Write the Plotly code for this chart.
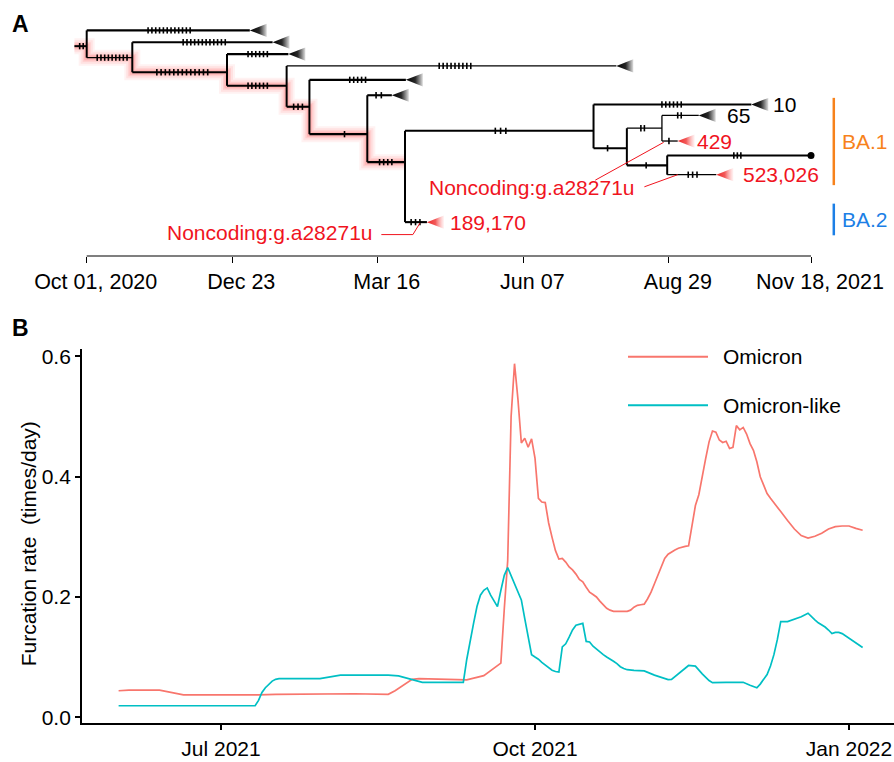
import plotly.graph_objects as go
import pandas as pd

# ---------------- DATA ----------------
# Panel A: time-scaled tree (dates of nodes, vertical row of nodes, parent)
node_names = ["root", "N1", "N2", "N3", "N4", "N5", "N6", "N7", "N8", "N9", "N10",
              "T1", "T2", "T3", "T4", "T5", "T6", "T7", "T8", "T9", "T10", "T11", "T12"]
node_dates = ["2020-10-01", "2020-10-27", "2020-12-20", "2021-01-23", "2021-02-05",
              "2021-03-10", "2021-03-31 12:00", "2021-07-17", "2021-08-05", "2021-08-25",
              "2021-08-28",
              "2021-01-02", "2021-01-15", "2021-01-24", "2021-07-30", "2021-04-01",
              "2021-03-24", "2021-10-15", "2021-09-15", "2021-09-03", "2021-11-18",
              "2021-09-25", "2021-04-13"]
node_rows = [2.33, 3.30, 4.53, 5.67, 7.44, 9.75, 12.11, 9.47, 10.94, 9.25, 12.38,
             1.0, 2.0, 3.0, 4.0, 5.17, 6.47, 7.25, 8.17, 10.33, 11.55, 13.17, 17.17]
node_parents = [None, "root", "N1", "N2", "N3", "N4", "N5", "N6", "N7", "N8", "N8",
                "root", "N1", "N2", "N3", "N4", "N5", "N7", "N9", "N9", "N10", "N10", "N6"]
root_stem_start = "2020-09-24"

# tips drawn as collapsed clades (triangles) and their colour class
collapsed_tips = ["T1", "T2", "T3", "T4", "T5", "T6", "T7", "T8", "T9", "T11", "T12"]
red_tips = ["T9", "T11", "T12"]
dot_tips = ["T10"]
tip_label_names = ["T7", "T8", "T9", "T11", "T12"]
tip_label_texts = ["10", "65", "429", "523,026", "189,170"]

# mutations drawn on branches (branch named by its child node)
mut_branch = ["root", "T1", "N1", "T2", "N2", "T3", "N3", "T4", "N4", "T5", "N5", "T6",
              "N6", "T12", "N7", "T7", "N8", "N9", "T8", "T9", "N10", "T10", "T11"]
mut_count = [2, 12, 9, 12, 13, 6, 6, 9, 3, 5, 1, 2, 4, 3, 3, 6, 1, 2, 2, 1, 1, 3, 3]
mut_start = ["2020-09-27", "2020-11-05", "2020-10-07", "2020-11-25", "2020-11-10",
             "2021-01-01", "2021-01-01", "2021-04-20", "2021-01-27", "2021-02-28",
             "2021-02-25", "2021-03-15", "2021-03-17", "2021-04-04", "2021-05-22",
             "2021-08-25", "2021-07-25", "2021-08-13", "2021-09-03", "2021-08-29",
             "2021-08-16", "2021-10-05", "2021-09-09"]
mut_end = ["2020-09-29", "2020-11-29", "2020-10-24", "2020-12-19", "2020-12-09",
           "2021-01-12", "2021-01-12", "2021-05-08", "2021-02-01", "2021-03-09",
           "2021-02-25", "2021-03-18", "2021-03-24", "2021-04-09", "2021-05-28",
           "2021-09-05", "2021-07-25", "2021-08-15", "2021-09-05", "2021-08-29",
           "2021-08-16", "2021-10-09", "2021-09-14"]

# highlighted (glowing) lineage
glow_path = ["root", "N1", "N2", "N3", "N4", "N5", "N6"]

# tree time axis
tree_tick_dates = ["2020-10-01", "2020-12-23", "2021-03-16", "2021-06-07", "2021-08-29", "2021-11-18"]
tree_tick_text = ["Oct 01, 2020", "Dec 23", "Mar 16", "Jun 07", "Aug 29", "Nov 18, 2021"]

# annotation "Noncoding:g.a28271u" leader lines (date, row)
leader1_x = ["2021-07-18", "2021-08-26"]
leader1_y = [13.63, 10.44]
leader2_x = ["2021-08-15", "2021-09-03"]
leader2_y = [14.19, 13.17]
leader3_x = ["2021-03-18", "2021-04-05", "2021-04-09"]
leader3_y = [18.22, 18.22, 17.25]

# lineage bars
lineage_names = ["BA.1", "BA.2"]
lineage_row_from = [6.69, 15.61]
lineage_row_to = [14.05, 18.28]
lineage_bar_date = "2021-12-01"

# Panel B: furcation rate
omicron_dates = ["2021-06-01", "2021-06-04", "2021-06-13", "2021-06-20", "2021-07-12", "2021-07-17",
                 "2021-08-09", "2021-08-19", "2021-08-21", "2021-08-26", "2021-08-28", "2021-09-11",
                 "2021-09-16", "2021-09-19", "2021-09-21", "2021-09-22", "2021-09-23", "2021-09-24",
                 "2021-09-25", "2021-09-26", "2021-09-27", "2021-09-28", "2021-09-29", "2021-09-30",
                 "2021-10-01", "2021-10-02", "2021-10-03", "2021-10-04", "2021-10-05", "2021-10-06",
                 "2021-10-07", "2021-10-08", "2021-10-09", "2021-10-10", "2021-10-11", "2021-10-12",
                 "2021-10-13", "2021-10-14", "2021-10-15", "2021-10-16", "2021-10-17", "2021-10-18",
                 "2021-10-19", "2021-10-20", "2021-10-21", "2021-10-22", "2021-10-23", "2021-10-24",
                 "2021-10-28", "2021-10-29", "2021-10-30", "2021-10-31", "2021-11-01", "2021-11-02",
                 "2021-11-03", "2021-11-04", "2021-11-05", "2021-11-06", "2021-11-07", "2021-11-08",
                 "2021-11-09", "2021-11-10", "2021-11-11", "2021-11-12", "2021-11-13", "2021-11-14",
                 "2021-11-15", "2021-11-16", "2021-11-17", "2021-11-18", "2021-11-19", "2021-11-20",
                 "2021-11-21", "2021-11-22", "2021-11-23", "2021-11-24", "2021-11-25", "2021-11-26",
                 "2021-11-27", "2021-11-28", "2021-11-29", "2021-11-30", "2021-12-01", "2021-12-02",
                 "2021-12-03", "2021-12-04", "2021-12-05", "2021-12-06", "2021-12-07", "2021-12-08",
                 "2021-12-09", "2021-12-10", "2021-12-12", "2021-12-14", "2021-12-16", "2021-12-18",
                 "2021-12-20", "2021-12-22", "2021-12-24", "2021-12-26", "2021-12-28", "2021-12-30",
                 "2022-01-01", "2022-01-03", "2022-01-05"]
omicron_vals = [0.044, 0.045, 0.045, 0.037, 0.037, 0.038,
                0.039, 0.038, 0.044, 0.063, 0.064, 0.062,
                0.069, 0.082, 0.090, 0.18, 0.26, 0.50,
                0.588, 0.529, 0.456, 0.464, 0.449, 0.463,
                0.431, 0.364, 0.358, 0.357, 0.323, 0.299,
                0.277, 0.263, 0.264, 0.258, 0.250, 0.245,
                0.238, 0.229, 0.225, 0.216, 0.208, 0.204,
                0.200, 0.193, 0.186, 0.181, 0.178, 0.176,
                0.176, 0.178, 0.183, 0.186, 0.187, 0.188,
                0.197, 0.208, 0.222, 0.235, 0.250, 0.264,
                0.271, 0.275, 0.278, 0.281, 0.283, 0.284,
                0.285, 0.322, 0.352, 0.370, 0.397, 0.430,
                0.458, 0.476, 0.474, 0.461, 0.457, 0.459,
                0.447, 0.449, 0.485, 0.478, 0.482, 0.471,
                0.455, 0.444, 0.425, 0.400, 0.386, 0.372,
                0.364, 0.356, 0.342, 0.327, 0.313, 0.302,
                0.298, 0.301, 0.306, 0.313, 0.317, 0.318,
                0.318, 0.314, 0.311]

omicron_like_dates = ["2021-06-01", "2021-07-11", "2021-07-12", "2021-07-13", "2021-07-14", "2021-07-15",
                      "2021-07-16", "2021-07-17", "2021-07-18", "2021-07-30", "2021-08-05", "2021-08-19",
                      "2021-08-22", "2021-08-29", "2021-09-10", "2021-09-11", "2021-09-12", "2021-09-13",
                      "2021-09-14", "2021-09-15", "2021-09-16", "2021-09-17", "2021-09-18", "2021-09-19",
                      "2021-09-20", "2021-09-21", "2021-09-22", "2021-09-23", "2021-09-24", "2021-09-25",
                      "2021-09-26", "2021-09-27", "2021-09-28", "2021-09-29", "2021-09-30", "2021-10-01",
                      "2021-10-02", "2021-10-03", "2021-10-04", "2021-10-05", "2021-10-06", "2021-10-07",
                      "2021-10-08", "2021-10-09", "2021-10-10", "2021-10-11", "2021-10-12", "2021-10-13",
                      "2021-10-14", "2021-10-15", "2021-10-16", "2021-10-17", "2021-10-18", "2021-10-19",
                      "2021-10-20", "2021-10-21", "2021-10-22", "2021-10-23", "2021-10-24", "2021-10-25",
                      "2021-10-26", "2021-10-27", "2021-10-28", "2021-10-30", "2021-11-02", "2021-11-05",
                      "2021-11-09", "2021-11-10", "2021-11-12", "2021-11-14", "2021-11-15", "2021-11-17",
                      "2021-11-19", "2021-11-21", "2021-11-22", "2021-11-26", "2021-12-01", "2021-12-03",
                      "2021-12-05", "2021-12-06", "2021-12-07", "2021-12-08", "2021-12-09", "2021-12-10",
                      "2021-12-11", "2021-12-12", "2021-12-14", "2021-12-16", "2021-12-18", "2021-12-20",
                      "2021-12-21", "2021-12-22", "2021-12-23", "2021-12-24", "2021-12-25", "2021-12-26",
                      "2021-12-27", "2021-12-28", "2021-12-29", "2021-12-30", "2021-12-31", "2022-01-01",
                      "2022-01-02", "2022-01-03", "2022-01-04", "2022-01-05"]
omicron_like_vals = [0.019, 0.019, 0.028, 0.041, 0.049, 0.055,
                     0.060, 0.063, 0.064, 0.064, 0.070, 0.070,
                     0.0686, 0.058, 0.058, 0.096, 0.129, 0.156,
                     0.184, 0.203, 0.211, 0.215, 0.203, 0.193,
                     0.184, 0.211, 0.236, 0.249, 0.236, 0.222,
                     0.208, 0.195, 0.164, 0.134, 0.104, 0.100,
                     0.0965, 0.091, 0.087, 0.082, 0.078, 0.076,
                     0.075, 0.117, 0.122, 0.133, 0.145, 0.153,
                     0.155, 0.156, 0.126, 0.125, 0.118, 0.113,
                     0.108, 0.104, 0.100, 0.097, 0.093, 0.089,
                     0.084, 0.081, 0.079, 0.078, 0.077, 0.070,
                     0.0625, 0.063, 0.072, 0.082, 0.086, 0.085,
                     0.072, 0.061, 0.0575, 0.058, 0.058, 0.053,
                     0.049, 0.055, 0.063, 0.071, 0.085, 0.104,
                     0.129, 0.159, 0.159, 0.163, 0.167, 0.173,
                     0.167, 0.162, 0.157, 0.154, 0.150, 0.145,
                     0.139, 0.141, 0.141, 0.139, 0.135, 0.132,
                     0.127, 0.123, 0.119, 0.116]

series_names = ["Omicron", "Omicron-like"]
y_tick_vals = [0.0, 0.2, 0.4, 0.6]
x_tick_vals_b = ["2021-07-01", "2021-10-01", "2022-01-01"]
x_tick_text_b = ["Jul 2021", "Oct 2021", "Jan 2022"]

# ---------------- STYLE / LAYOUT ----------------
W, H = 894, 762
FONT = "Liberation Sans, Arial, Helvetica, sans-serif"
FS = 21
RED_TXT = "#F0141E"
COL_OM = "#F8766D"
COL_OML = "#00BFC4"
COL_BA = ["#F7821B", "#1C7FE6"]

# tree panel geometry (pixel mapping)
A_ORIGIN = pd.Timestamp("2020-10-01")
A_ORIGIN_PX = 86.7
A_PPD = (811.0 - 86.7) / 413.0
ROW_PX = 12.0
ROW1_PX = 26.7
A_AXIS_PX = 255.0
xa_range = [A_ORIGIN - pd.Timedelta(days=A_ORIGIN_PX / A_PPD),
            A_ORIGIN + pd.Timedelta(days=(W - A_ORIGIN_PX) / A_PPD)]
ya_range = [1 + (A_AXIS_PX - ROW1_PX) / ROW_PX, 1 - ROW1_PX / ROW_PX]
TRI_W = pd.Timedelta(days=17.0 / A_PPD)
TRI_H = 6.7 / ROW_PX
MUT_H = 3.2 / ROW_PX

thin_branches = {"N1", "T4", "T8", "T9", "N9", "T11"}
thin_verticals = {"N9"}

# line panel geometry
B_ORIGIN = pd.Timestamp("2021-07-01")
B_ORIGIN_PX = 221.0
B_PPD = 3.413
B_LEFT, B_TOP, B_BOT = 82.0, 349.0, 728.0
xb_range = [B_ORIGIN - pd.Timedelta(days=(B_ORIGIN_PX - B_LEFT) / B_PPD),
            B_ORIGIN + pd.Timedelta(days=(W - B_ORIGIN_PX) / B_PPD)]
Y0_PX, Y6_PX = 721.7, 356.7
vpp = 0.6 / (Y0_PX - Y6_PX)
yb_range = [-(B_BOT - Y0_PX) * vpp, 0.6 + (Y6_PX - B_TOP) * vpp]

# ---------------- BUILD ----------------
nd = {n: (pd.Timestamp(d), r, p) for n, d, r, p in zip(node_names, node_dates, node_rows, node_parents)}
children = {}
for n, (_, _, p) in nd.items():
    if p is not None:
        children.setdefault(p, []).append(n)

fig = go.Figure()

# glow along highlighted lineage
gx, gy = [pd.Timestamp(root_stem_start)], [nd["root"][1]]
for a, b in zip(glow_path[:-1], glow_path[1:]):
    gx += [nd[a][0], nd[a][0], nd[b][0]]
    gy += [nd[a][1], nd[b][1], nd[b][1]]
for w, a in [(16, 0.06), (12, 0.08), (8, 0.11), (5, 0.14)]:
    fig.add_trace(go.Scatter(x=gx, y=gy, mode="lines", xaxis="x", yaxis="y",
                             line=dict(color=f"rgba(255,40,40,{a})", width=w),
                             hoverinfo="skip", showlegend=False))

# branches
segs = {}
def add_seg(width, xs, ys):
    s = segs.setdefault(width, ([], []))
    s[0].extend(xs + [None])
    s[1].extend(ys + [None])

add_seg(2.0, [pd.Timestamp(root_stem_start), nd["root"][0]], [nd["root"][1], nd["root"][1]])
for n, (d, r, p) in nd.items():
    if p is None:
        continue
    w = 1.3 if n in thin_branches else 2.1
    add_seg(w, [nd[p][0], d], [r, r])
for p, ch in children.items():
    rows = [nd[c][1] for c in ch] + [nd[p][1]]
    w = 1.3 if p in thin_verticals else 2.0
    add_seg(w, [nd[p][0], nd[p][0]], [min(rows), max(rows)])
for w, (xs, ys) in segs.items():
    fig.add_trace(go.Scatter(x=xs, y=ys, mode="lines", xaxis="x", yaxis="y",
                             line=dict(color="black", width=w), hoverinfo="skip",
                             showlegend=False))

# mutation ticks
mx, my = [], []
for b, c, s, e in zip(mut_branch, mut_count, mut_start, mut_end):
    s, e = pd.Timestamp(s), pd.Timestamp(e)
    r = nd[b][1]
    for i in range(c):
        t = s if c == 1 else s + (e - s) * (i / (c - 1))
        mx += [t, t, None]
        my += [r - MUT_H, r + MUT_H, None]
fig.add_trace(go.Scatter(x=mx, y=my, mode="lines", xaxis="x", yaxis="y",
                         line=dict(color="black", width=1.6), hoverinfo="skip",
                         showlegend=False))

# collapsed clades as gradient triangles
for t in collapsed_tips:
    d, r, _ = nd[t]
    if t in red_tips:
        cs = [[0, "rgba(235,35,35,1)"], [0.5, "rgba(240,60,60,0.85)"], [1, "rgba(255,140,140,0.1)"]]
    else:
        cs = [[0, "rgba(0,0,0,1)"], [0.55, "rgba(15,15,15,0.9)"], [1, "rgba(0,0,0,0.12)"]]
    fig.add_trace(go.Scatter(x=[d, d + TRI_W, d + TRI_W, d], y=[r, r - TRI_H, r + TRI_H, r],
                             mode="lines", fill="toself", xaxis="x", yaxis="y",
                             line=dict(width=0, color="rgba(0,0,0,0)"),
                             fillgradient=dict(type="horizontal", colorscale=cs),
                             hoverinfo="skip", showlegend=False))
for t in dot_tips:
    d, r, _ = nd[t]
    fig.add_trace(go.Scatter(x=[d], y=[r], mode="markers", xaxis="x", yaxis="y",
                             marker=dict(color="black", size=7), hoverinfo="skip",
                             showlegend=False))

# leader lines
for lx, ly in [(leader1_x, leader1_y), (leader2_x, leader2_y), (leader3_x, leader3_y)]:
    fig.add_trace(go.Scatter(x=lx, y=ly, mode="lines", xaxis="x", yaxis="y",
                             line=dict(color=RED_TXT, width=1), hoverinfo="skip",
                             showlegend=False))

# lineage bars
for name, r0, r1, col in zip(lineage_names, lineage_row_from, lineage_row_to, COL_BA):
    fig.add_trace(go.Scatter(x=[lineage_bar_date, lineage_bar_date], y=[r0, r1], mode="lines",
                             xaxis="x", yaxis="y", line=dict(color=col, width=2.5),
                             hoverinfo="skip", showlegend=False))

# panel B lines
fig.add_trace(go.Scatter(x=omicron_dates, y=omicron_vals, mode="lines", name=series_names[0],
                         xaxis="x2", yaxis="y2", line=dict(color=COL_OM, width=1.7),
                         showlegend=False))
fig.add_trace(go.Scatter(x=omicron_like_dates, y=omicron_like_vals, mode="lines", name=series_names[1],
                         xaxis="x2", yaxis="y2", line=dict(color=COL_OML, width=1.7),
                         showlegend=False))

ann = []
# tip labels
label_shift = {"T7": 20, "T8": 26, "T9": 17, "T11": 25, "T12": 21}
for t, txt in zip(tip_label_names, tip_label_texts):
    d, r, _ = nd[t]
    ann.append(dict(x=d, y=r, xref="x", yref="y", text=txt, showarrow=False,
                    xanchor="left", yanchor="middle", xshift=label_shift[t],
                    font=dict(size=FS, color=RED_TXT if t in red_tips else "black")))
ann.append(dict(x="2021-04-14", y=14.22, xref="x", yref="y", text="Noncoding:g.a28271u",
                showarrow=False, xanchor="left", yanchor="middle", xshift=-2,
                font=dict(size=FS, color=RED_TXT)))
ann.append(dict(x="2021-03-13", y=18.03, xref="x", yref="y", text="Noncoding:g.a28271u",
                showarrow=False, xanchor="right", yanchor="middle", xshift=2,
                font=dict(size=FS, color=RED_TXT)))
for name, r0, r1, col in zip(lineage_names, lineage_row_from, lineage_row_to, COL_BA):
    ann.append(dict(x=lineage_bar_date, y=(r0 + r1) / 2, xref="x", yref="y", text=name,
                    showarrow=False, xanchor="left", yanchor="middle", xshift=6,
                    font=dict(size=FS, color=col)))
# panel letters
ann.append(dict(x=10 / W, y=1 - 20 / H, xref="paper", yref="paper", text="<b>A</b>",
                showarrow=False, xanchor="left", yanchor="middle", font=dict(size=23, color="black")))
ann.append(dict(x=10 / W, y=1 - 327.5 / H, xref="paper", yref="paper", text="<b>B</b>",
                showarrow=False, xanchor="left", yanchor="middle", font=dict(size=23, color="black")))
# y title panel B
ann.append(dict(x=28 / W, y=1 - 546.7 / H, xref="paper", yref="paper",
                text="Furcation rate  (times/day)", textangle=-90, showarrow=False,
                xanchor="center", yanchor="middle", font=dict(size=FS, color="black")))
# manual legend
shapes = []
for i, (nm, col) in enumerate(zip(series_names, [COL_OM, COL_OML])):
    yy = 1 - (357 + 49 * i) / H
    shapes.append(dict(type="line", xref="paper", yref="paper", x0=628 / W, x1=708 / W,
                       y0=yy, y1=yy, line=dict(color=col, width=2)))
    ann.append(dict(x=721 / W, y=yy, xref="paper", yref="paper", text=nm, showarrow=False,
                    xanchor="left", yanchor="middle", font=dict(size=FS, color="black")))
# tree time-axis line
shapes.append(dict(type="line", xref="x", yref="y domain", x0=tree_tick_dates[0],
                   x1=tree_tick_dates[-1], y0=0, y1=0, line=dict(color="black", width=1.2)))

fig.update_layout(
    width=W, height=H, margin=dict(l=0, r=0, t=0, b=0),
    paper_bgcolor="white", plot_bgcolor="white",
    font=dict(family=FONT, size=FS, color="black"),
    showlegend=False,
    annotations=ann, shapes=shapes,
    xaxis=dict(domain=[0, 1], anchor="y", type="date", range=xa_range,
               tickvals=tree_tick_dates, ticktext=tree_tick_text, ticks="outside",
               ticklen=6, tickwidth=1.2, tickcolor="black", showline=False,
               showgrid=False, zeroline=False, tickfont=dict(size=21.5),
               ticklabelshift=9),
    yaxis=dict(domain=[1 - A_AXIS_PX / H, 1], anchor="x", range=ya_range, visible=False),
    xaxis2=dict(domain=[B_LEFT / W, 1], anchor="y2", type="date", range=xb_range,
                tickvals=x_tick_vals_b, ticktext=x_tick_text_b, ticks="outside",
                ticklen=5, tickwidth=1.5, tickcolor="black", showline=True,
                linecolor="black", linewidth=1.8, showgrid=False, zeroline=False,
                tickfont=dict(size=FS)),
    yaxis2=dict(domain=[1 - B_BOT / H, 1 - B_TOP / H], anchor="x2", range=yb_range,
                tickvals=y_tick_vals, ticktext=[f"{v:.1f}" for v in y_tick_vals],
                ticks="outside", ticklen=5, tickwidth=1.5, tickcolor="black",
                showline=True, linecolor="black", linewidth=1.8, showgrid=False,
                zeroline=False, tickfont=dict(size=FS)),
)

fig.write_html("out.html", config={"displayModeBar": False},
               post_script="document.body.style.margin='0';document.body.style.padding='0';"
                           "document.body.style.overflow='hidden';")
